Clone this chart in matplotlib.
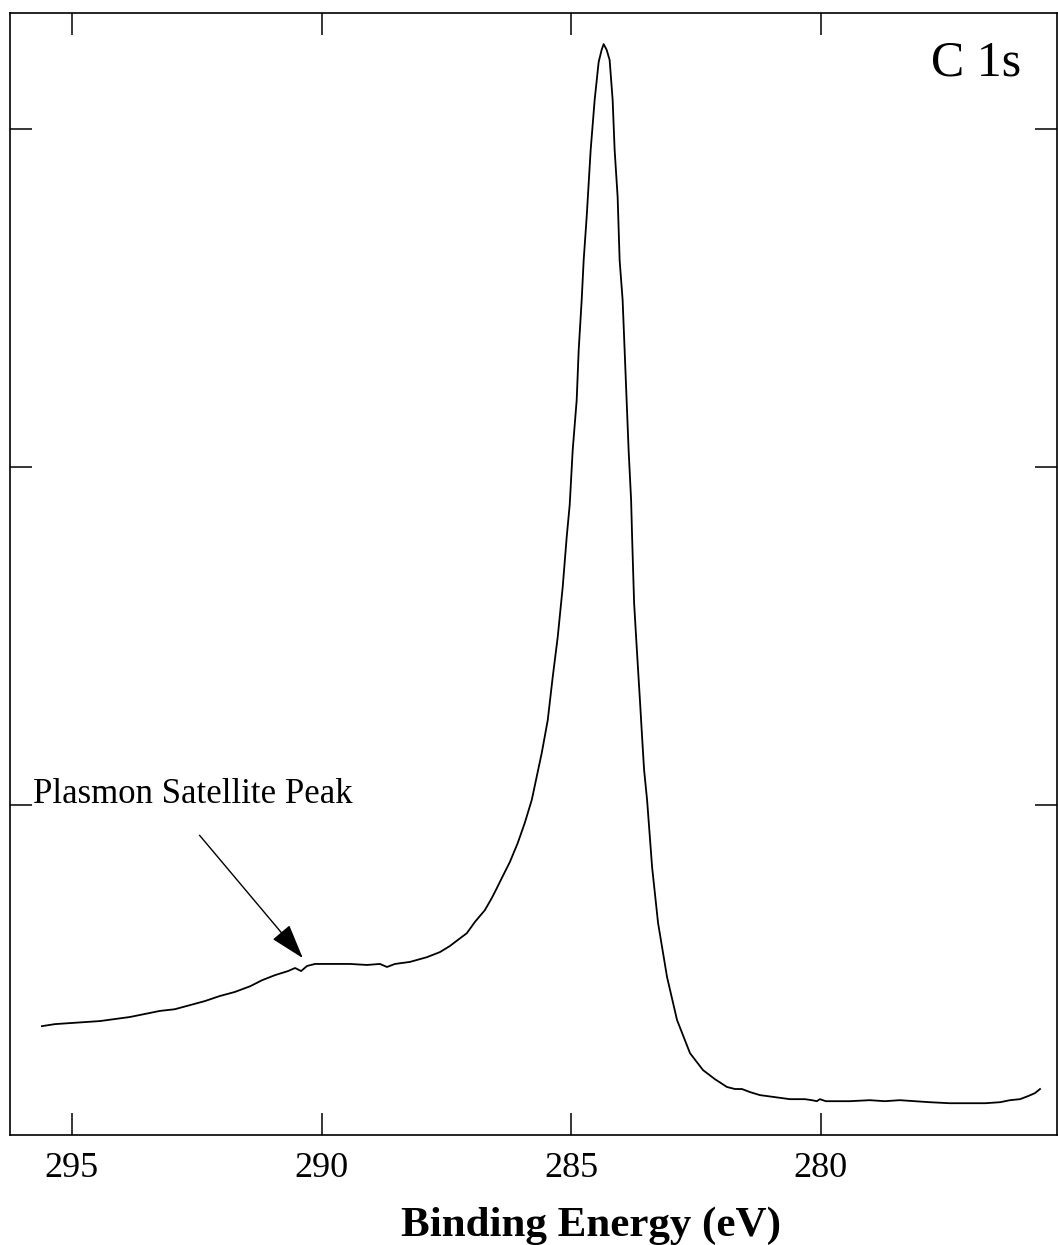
import matplotlib
matplotlib.use('Agg')
import matplotlib.pyplot as plt

plt.rcParams['font.family'] = ['Liberation Serif', 'DejaVu Serif']

# C 1s spectrum (binding energy in eV, intensity in arbitrary units)
energy = [295.60, 295.34, 295.04, 294.74, 294.44, 294.14, 293.84, 293.54, 293.24, 292.94,
          292.64, 292.34, 292.04, 291.74, 291.43, 291.19, 290.93, 290.67, 290.53, 290.41,
          290.29, 290.13, 289.77, 289.43, 289.09, 288.83, 288.69, 288.53, 288.23, 287.89,
          287.63, 287.43, 287.27, 287.09, 286.93, 286.73, 286.59, 286.49, 286.37, 286.23,
          286.07, 285.93, 285.79, 285.59, 285.47, 285.37, 285.27, 285.17, 285.09, 285.03,
          284.97, 284.89, 284.85, 284.79, 284.75, 284.69, 284.61, 284.53, 284.45, 284.39,
          284.35, 284.29, 284.23, 284.17, 284.13, 284.07, 284.03, 283.97, 283.93, 283.89,
          283.85, 283.80, 283.78, 283.74, 283.70, 283.66, 283.62, 283.58, 283.54, 283.48,
          283.38, 283.26, 283.08, 282.88, 282.62, 282.36, 282.12, 281.88, 281.72, 281.58,
          281.42, 281.22, 280.92, 280.62, 280.32, 280.18, 280.08, 280.02, 279.90, 279.42,
          279.02, 278.72, 278.42, 278.12, 277.82, 277.42, 277.01, 276.71, 276.41, 276.21,
          276.01, 275.85, 275.71, 275.61]
intensity = [0.346, 0.352, 0.355, 0.358, 0.361, 0.367, 0.373, 0.382, 0.391, 0.396,
             0.408, 0.420, 0.435, 0.447, 0.464, 0.482, 0.497, 0.509, 0.518, 0.509,
             0.524, 0.530, 0.530, 0.530, 0.527, 0.530, 0.521, 0.530, 0.536, 0.550,
             0.565, 0.583, 0.601, 0.621, 0.654, 0.689, 0.725, 0.754, 0.790, 0.831,
             0.888, 0.947, 1.015, 1.154, 1.251, 1.379, 1.497, 1.645, 1.793, 1.888,
             2.050, 2.198, 2.346, 2.494, 2.612, 2.740, 2.938, 3.086, 3.198, 3.234,
             3.251, 3.234, 3.204, 3.086, 2.938, 2.799, 2.612, 2.494, 2.346, 2.198,
             2.050, 1.902, 1.793, 1.598, 1.497, 1.399, 1.302, 1.201, 1.104, 1.015,
             0.817, 0.651, 0.491, 0.364, 0.266, 0.216, 0.189, 0.166, 0.160, 0.160,
             0.151, 0.142, 0.136, 0.130, 0.130, 0.127, 0.124, 0.130, 0.124, 0.124,
             0.127, 0.124, 0.127, 0.124, 0.121, 0.118, 0.118, 0.118, 0.121, 0.127,
             0.130, 0.139, 0.148, 0.160]

x_ticks = [295, 290, 285, 280]
y_ticks = [1, 2, 3]

W, H = 1058, 1245
fig = plt.figure(figsize=(W / 100, H / 100), dpi=100)
ax = fig.add_axes([10 / W, (H - 1135) / H, 1047 / W, 1122 / H])

ax.plot(energy, intensity, color='black', lw=1.3)

ax.set_xlim(296.24, 275.27)
ax.set_ylim(0.024, 3.343)
ax.set_xticks(x_ticks)
ax.set_xticklabels([str(t) for t in x_ticks], fontsize=26)
ax.set_yticks(y_ticks)
ax.set_yticklabels([])
ax.tick_params(direction='in', length=16, width=1.1, top=True, right=True,
               pad=12, labelleft=False)
for sp in ax.spines.values():
    sp.set_linewidth(1.2)

ax.set_xlabel('Binding Energy (eV)', fontsize=31, fontweight='bold', va='baseline')
ax.xaxis.set_label_coords(0.555, (1135 - 1236) / 1122)

ax.annotate('', xy=(290.34, 0.541), xytext=(292.48, 0.917),
            arrowprops=dict(arrowstyle='-|>,head_length=1.1,head_width=0.35',
                            mutation_scale=20, color='black', lw=1.0))
ax.text(295.78, 1.006, 'Plasmon Satellite Peak', fontsize=25, ha='left', va='baseline')
ax.text(275.99, 3.157, 'C 1s', fontsize=36, ha='right', va='baseline')

fig.savefig('out.png', dpi=100)
